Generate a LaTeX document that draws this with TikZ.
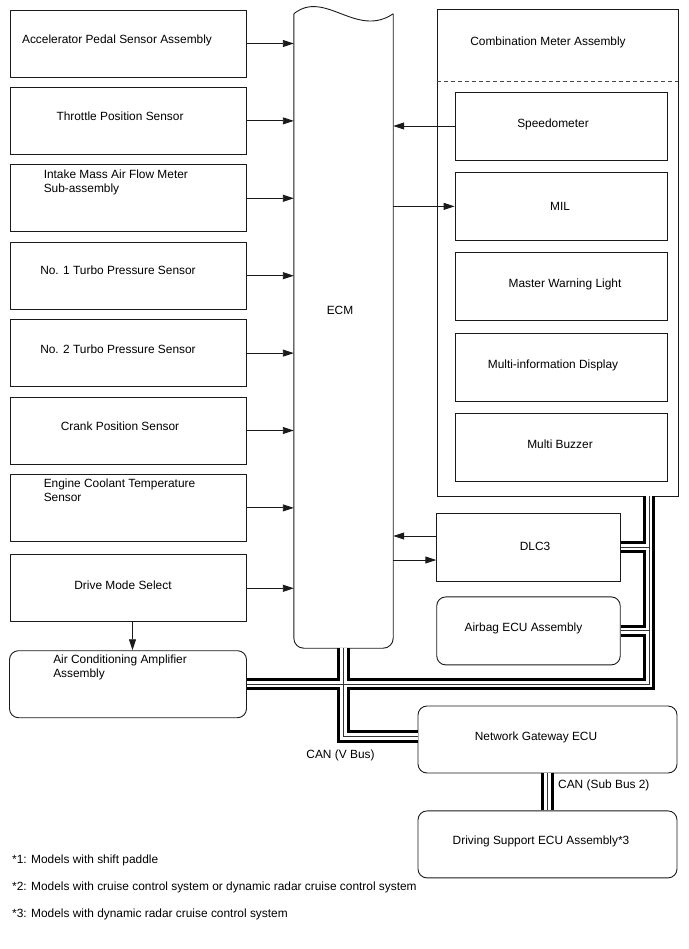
\documentclass[tikz,border=0pt]{standalone}
\usepackage{fontspec}
\setmainfont{Liberation Sans}
\usetikzlibrary{positioning, arrows.meta, calc}
\definecolor{boxLine}{HTML}{1A1A1A}

\begin{document}
\begin{tikzpicture}[
    x=1pt, y=-1pt,
    node distance=9.5pt,
    >={Triangle[length=11pt, width=7pt]},
    % --- Estilos ---
    base/.style={draw=boxLine, line width=0.9pt, inner sep=0pt},
    sensor/.style={base, rectangle, minimum width=236pt, minimum height=67pt},
    lamp/.style={base, rectangle, minimum width=212pt, minimum height=68pt},
    ecu/.style={base, rectangle, rounded corners=9pt, minimum height=67pt},
    tag/.style={font=\fontsize{11.9}{14}\selectfont, inner sep=0pt, align=left},
    signal/.style={->, line width=0.9pt, draw=boxLine},
    canbus/.style={line width=12.5pt, line join=miter, draw=black,
        postaction={draw=white, line width=6.5pt},
        postaction={draw=black!80, line width=1pt}}
]
\useasboundingbox (0,0) rectangle (688,949);

% ====== Sensores (columna izquierda) ======
\node[sensor] (APS) at (128,43.5) {};
\node[sensor, below=of APS] (TPS) {};
\node[sensor, below=of TPS] (MAF) {};
\node[sensor, below=of MAF] (Turbo1) {};
\node[sensor, below=of Turbo1] (Turbo2) {};
\node[sensor, below=of Turbo2] (CKP) {};
\node[sensor, below=of CKP] (ECT) {};
\node[sensor, below=12.5pt of ECT] (DMS) {};
\node[ecu, minimum width=237pt, below=28pt of DMS] (ACAmp) {};

\node[tag] (APSText) at ([shift={(-11,-3.5)}]APS.center) {Accelerator Pedal Sensor Assembly};
\node[tag] (TPSText) at ([shift={(-8,-5)}]TPS.center) {Throttle Position Sensor};
\node[tag, anchor=west] (MAFText) at ([shift={(34,-16)}]MAF.west) {Intake Mass Air Flow Meter\\Sub-assembly};
\node[tag] (Turbo1Text) at ([shift={(-10,-5.5)}]Turbo1.center) {No. 1 Turbo Pressure Sensor};
\node[tag] (Turbo2Text) at ([shift={(-10,-4)}]Turbo2.center) {No. 2 Turbo Pressure Sensor};
\node[tag] (CKPText) at ([shift={(-8,-4.5)}]CKP.center) {Crank Position Sensor};
\node[tag, anchor=west] (ECTText) at ([shift={(34,-18)}]ECT.west) {Engine Coolant Temperature\\Sensor};
\node[tag] (DMSText) at ([shift={(-5,-3)}]DMS.center) {Drive Mode Select};
\node[tag, anchor=west] (ACAmpText) at ([shift={(44,-17)}]ACAmp.west) {Air Conditioning Amplifier\\Assembly};

% ====== ECM ======
\node[inner sep=0pt, minimum width=99pt, minimum height=634pt] (ECM) at (343.5,331) {};
\draw[boxLine, line width=0.9pt] (ECM.north west) .. controls +(31,-25) and +(-37,25) .. (ECM.north east);
\draw[boxLine, line width=0.9pt, rounded corners=10pt]
    (ECM.north west) -- (ECM.south west) -- (ECM.south east) -- (ECM.north east);
\node[tag] (ECMText) at (340,310) {ECM};

% ====== Combination Meter ======
\node[base, minimum width=241pt, minimum height=487pt] (Meter) at (557.5,252.5) {};
\node[tag] (MeterText) at (548,42) {Combination Meter Assembly};
\draw[boxLine!80, line width=0.9pt, dash pattern=on 4pt off 3pt]
    ([yshift=-73pt]Meter.north west) -- ([yshift=-73pt]Meter.north east);

\node[lamp] (Speedo) at (561,126) {};
\node[lamp, below=11.5pt of Speedo] (MIL) {};
\node[lamp, below=11.5pt of MIL] (MWL) {};
\node[lamp, below=11.5pt of MWL] (MID) {};
\node[lamp, below=11.5pt of MID] (Buzzer) {};

\node[tag] (SpeedoText) at ([shift={(-8,-2)}]Speedo.center) {Speedometer};
\node[tag] (MILText) at ([shift={(-1,0)}]MIL.center) {MIL};
\node[tag] (MWLText) at ([shift={(4,-2)}]MWL.center) {Master Warning Light};
\node[tag] (MIDText) at ([shift={(-8,-2)}]MID.center) {Multi-information Display};
\node[tag] (BuzzerText) at ([shift={(-1,-3)}]Buzzer.center) {Multi Buzzer};

% ====== ECUs ======
\node[base, minimum width=183.5pt, minimum height=68pt] (DLC3) at (528.5,547) {};
\node[ecu, minimum width=183.5pt, minimum height=68pt, below=15pt of DLC3] (Airbag) {};
\node[ecu, minimum width=259pt] (Gateway) at (547.5,739.5) {};
\node[ecu, minimum width=259pt, below=37pt of Gateway] (DSU) {};

\node[tag] (DLC3Text) at ([shift={(6.5,-1)}]DLC3.center) {DLC3};
\node[tag] (AirbagText) at ([shift={(-5,-2)}]Airbag.center) {Airbag ECU Assembly};
\node[tag] (GatewayText) at ([shift={(-11.5,-2.5)}]Gateway.center) {Network Gateway ECU};
\node[tag] (DSUText) at ([shift={(-6.5,-2.5)}]DSU.center) {Driving Support ECU Assembly*3};

% ====== Senales ======
\draw[signal] (APS.east) -- (APS.east -| ECM.west);
\draw[signal] (TPS.east) -- (TPS.east -| ECM.west);
\draw[signal] (MAF.east) -- (MAF.east -| ECM.west);
\draw[signal] (Turbo1.east) -- (Turbo1.east -| ECM.west);
\draw[signal] (Turbo2.east) -- (Turbo2.east -| ECM.west);
\draw[signal] (CKP.east) -- (CKP.east -| ECM.west);
\draw[signal] (ECT.east) -- (ECT.east -| ECM.west);
\draw[signal] (DMS.east) -- (DMS.east -| ECM.west);
\draw[signal] ([xshift=4.5pt]DMS.south) -- ([xshift=4.5pt]ACAmp.north);

\draw[signal] (Speedo.west) -- (Speedo.west -| ECM.east);
\draw[signal] (MIL.west -| ECM.east) -- (MIL.west);
\draw[signal] ([yshift=11pt]DLC3.west) -- ([yshift=11pt]DLC3.west -| ECM.east);
\draw[signal] ([yshift=-13pt]DLC3.west -| ECM.east) -- ([yshift=-13pt]DLC3.west);

% ====== CAN ======
\coordinate (BusCorner) at (649,684);
\coordinate (BusDrop) at (343.5,736.5);
\draw[canbus] (Meter.south -| BusCorner) -- (BusCorner) -- (BusCorner -| ACAmp.east)
    (DLC3.east) -- (DLC3.east -| BusCorner)
    (Airbag.east) -- (Airbag.east -| BusCorner)
    (ECM.south) -- (BusDrop) -- (BusDrop -| Gateway.west)
    (Gateway.south) -- (DSU.north);

\node[tag] (VBusText) at (340.5,755) {CAN (V Bus)};
\node[tag, anchor=west] (SubBusText) at (558,785) {CAN (Sub Bus 2)};

% --- Notas ---
\node[tag, anchor=west] (Note1) at (12,860) {*1: Models with shift paddle};
\node[tag, anchor=west] (Note2) at (12,887) {*2: Models with cruise control system or dynamic radar cruise control system};
\node[tag, anchor=west] (Note3) at (12,914) {*3: Models with dynamic radar cruise control system};

\end{tikzpicture}
\end{document}
